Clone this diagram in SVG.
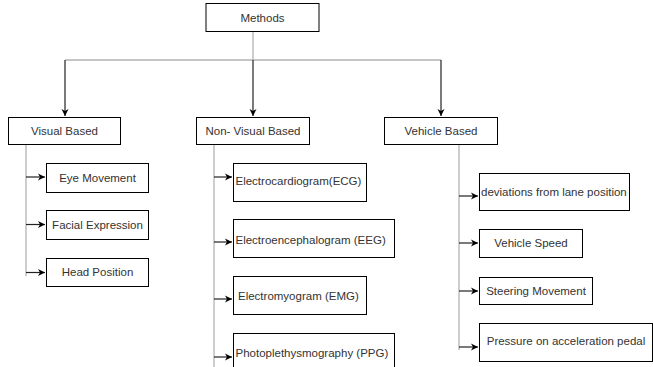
<svg xmlns="http://www.w3.org/2000/svg" width="653" height="367" viewBox="0 0 653 367">
<defs>
<marker id="ah" markerWidth="8" markerHeight="8" refX="7" refY="4" orient="auto" markerUnits="userSpaceOnUse">
<path d="M0,0.5 L7,4 L0,7.5 L2,4 Z" fill="#000"/>
</marker>
<style>
.box{fill:#fff;stroke:#000;stroke-width:1}
.t{font-family:"Liberation Sans",Arial,sans-serif;font-size:11.5px;fill:#333}
.c{text-anchor:middle}
.trunk{stroke:#b3b3b3;stroke-width:1.3;fill:none}
.arr{stroke:#222;stroke-width:1.2;fill:none;marker-end:url(#ah)}
</style>
</defs>
<rect width="653" height="367" fill="#fff"/>
<g id="connectors">
<path class="trunk" d="M253,32 V60 M65,60 H441"/>
<path class="arr" d="M65,60 V116"/>
<path class="arr" d="M253,60 V116"/>
<path class="arr" d="M441,60 V116"/>
<path class="trunk" d="M26,144 V276"/>
<path class="arr" d="M26,177 H45"/>
<path class="arr" d="M26,224.5 H45"/>
<path class="arr" d="M26,272.5 H45"/>
<path class="trunk" d="M214,144 V367"/>
<path class="arr" d="M214,177 H232"/>
<path class="arr" d="M214,242 H232"/>
<path class="arr" d="M214,299 H232"/>
<path class="arr" d="M214,357 H232"/>
<path class="trunk" d="M459,144 V350"/>
<path class="arr" d="M459,196 H478"/>
<path class="arr" d="M459,243 H478"/>
<path class="arr" d="M459,291 H478"/>
<path class="arr" d="M459,347 H478"/>
</g>
<g id="methods"><rect class="box" x="206" y="3.5" width="113" height="28"/><text class="t c" x="262.5" y="21.5">Methods</text></g>
<g id="visual"><rect class="box" x="8.5" y="117.5" width="112" height="27"/><text class="t c" x="64.5" y="135">Visual Based</text></g>
<g id="nonvisual"><rect class="box" x="196.5" y="117.5" width="113" height="27"/><text class="t c" x="253" y="135">Non- Visual Based</text></g>
<g id="vehicle"><rect class="box" x="384.5" y="117.5" width="113" height="27"/><text class="t c" x="441" y="135">Vehicle Based</text></g>
<g id="eye"><rect class="box" x="46.5" y="163.5" width="102" height="29"/><text class="t c" x="97.5" y="181.5">Eye Movement</text></g>
<g id="facial"><rect class="box" x="46.5" y="210.5" width="102" height="29"/><text class="t c" x="97.5" y="228.5">Facial Expression</text></g>
<g id="head"><rect class="box" x="46.5" y="258.5" width="102" height="28"/><text class="t c" x="97.5" y="276">Head Position</text></g>
<g id="ecg"><rect class="box" x="233.5" y="163.5" width="133" height="38"/><text class="t" x="235.5" y="185">Electrocardiogram(ECG)</text></g>
<g id="eeg"><rect class="box" x="233.5" y="219.5" width="161" height="38"/><text class="t" x="235.5" y="244">Electroencephalogram (EEG)</text></g>
<g id="emg"><rect class="box" x="233.5" y="276.5" width="133" height="38"/><text class="t" x="238" y="300">Electromyogram (EMG)</text></g>
<g id="ppg"><rect class="box" x="233.5" y="333.5" width="161" height="40"/><text class="t" x="235.5" y="357">Photoplethysmography (PPG)</text></g>
<g id="lane"><rect class="box" x="479.5" y="173.5" width="150" height="37"/><text class="t" x="481" y="196">deviations from lane position</text></g>
<g id="speed"><rect class="box" x="479.5" y="229.5" width="103" height="28"/><text class="t c" x="531" y="247">Vehicle Speed</text></g>
<g id="steering"><rect class="box" x="479.5" y="277.5" width="113" height="27"/><text class="t c" x="536" y="295">Steering Movement</text></g>
<g id="pressure"><rect class="box" x="479.5" y="323.5" width="173" height="38"/><text class="t c" x="566" y="345">Pressure on acceleration pedal</text></g>
</svg>
